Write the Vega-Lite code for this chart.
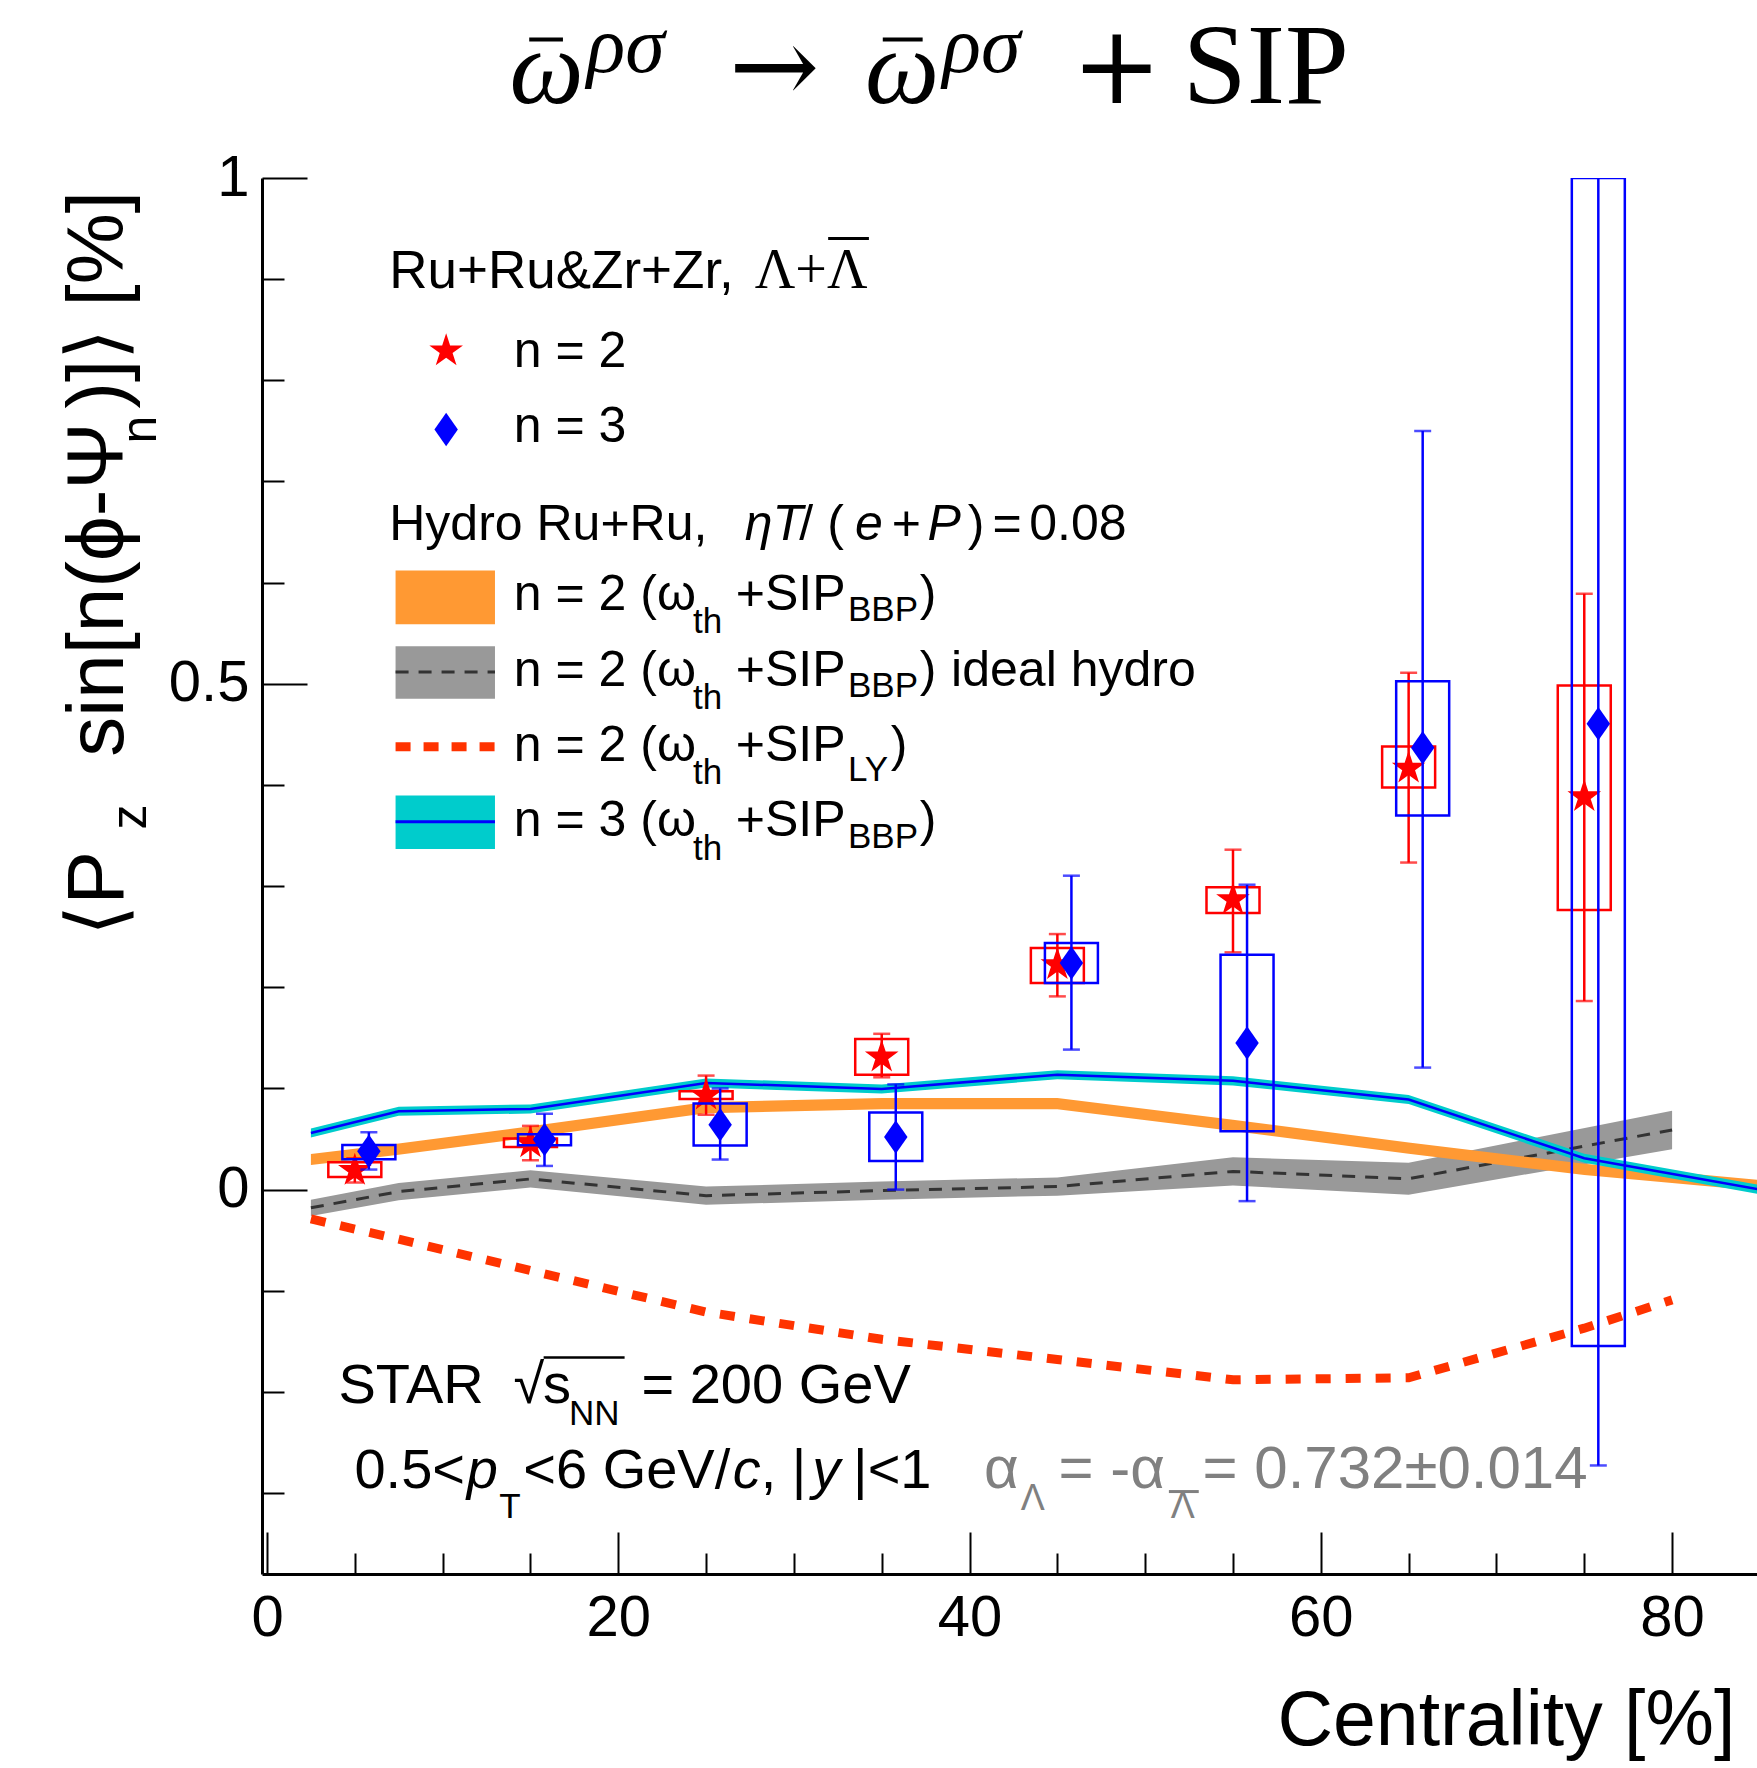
{
"$schema":"https://vega.github.io/schema/vega-lite/v6.json",
"usermeta":{"embedOptions":{"actions":false}},
"width":1495,"height":1396,
"autosize":{"type":"none"},
"padding":{"left":262,"top":178,"right":0,"bottom":194},
"background":"white",
"config":{"view":{"stroke":null},"axis":{"grid":false}},
"resolve":{"axis":{"x":"independent","y":"independent"}},
"datasets":{
"ideal":[{"c":2.5,"m":-0.018,"lo":-0.026,"hi":-0.01},{"c":7.5,"m":-0.002,"lo":-0.0105,"hi":0.0065},{"c":15,"m":0.0105,"lo":0.002,"hi":0.019},{"c":25,"m":-0.006,"lo":-0.015,"hi":0.003},{"c":35,"m":-0.001,"lo":-0.01,"hi":0.008},{"c":45,"m":0.003,"lo":-0.006,"hi":0.012},{"c":55,"m":0.018,"lo":0.004,"hi":0.032},{"c":65,"m":0.0107,"lo":-0.005,"hi":0.0265},{"c":80,"m":0.059,"lo":0.04,"hi":0.078}],
"bbp2":[{"c":2.5,"m":0.0297,"lo":0.0242,"hi":0.0352},{"c":7.5,"m":0.04,"lo":0.0345,"hi":0.0455},{"c":15,"m":0.057,"lo":0.0515,"hi":0.0625},{"c":25,"m":0.081,"lo":0.0755,"hi":0.0865},{"c":35,"m":0.085,"lo":0.0795,"hi":0.0905},{"c":45,"m":0.085,"lo":0.0795,"hi":0.0905},{"c":55,"m":0.0635,"lo":0.058,"hi":0.069},{"c":65,"m":0.041,"lo":0.0355,"hi":0.0465},{"c":75,"m":0.02,"lo":0.0145,"hi":0.0255},{"c":85,"m":0.004,"lo":-0.0015,"hi":0.0095}],
"bbp3":[{"c":2.5,"m":0.056,"lo":0.0515,"hi":0.0605},{"c":7.5,"m":0.0775,"lo":0.073,"hi":0.082},{"c":15,"m":0.0797,"lo":0.0752,"hi":0.0842},{"c":25,"m":0.1054,"lo":0.1009,"hi":0.1099},{"c":35,"m":0.0995,"lo":0.095,"hi":0.104},{"c":45,"m":0.1136,"lo":0.1091,"hi":0.1181},{"c":55,"m":0.1075,"lo":0.103,"hi":0.112},{"c":65,"m":0.089,"lo":0.0845,"hi":0.0935},{"c":75,"m":0.031,"lo":0.0265,"hi":0.0355},{"c":85,"m":0.0,"lo":-0.0045,"hi":0.0045}],
"ly":[{"c":2.5,"m":-0.029},{"c":7.5,"m":-0.049},{"c":15,"m":-0.08},{"c":25,"m":-0.121},{"c":35,"m":-0.148},{"c":45,"m":-0.168},{"c":55,"m":-0.188},{"c":65,"m":-0.186},{"c":75,"m":-0.137},{"c":80,"m":-0.109}],
"n2":[{"cent":5,"v":0.019,"slo":0.0125,"shi":0.027,"elo":0.007,"ehi":0.031},{"cent":15,"v":0.046,"slo":0.042,"shi":0.0505,"elo":0.029,"ehi":0.063},{"cent":25,"v":0.0934,"slo":0.0895,"shi":0.0972,"elo":0.074,"ehi":0.1127},{"cent":35,"v":0.131,"slo":0.1136,"shi":0.1489,"elo":0.111,"ehi":0.154},{"cent":45,"v":0.2223,"slo":0.2042,"shi":0.2389,"elo":0.191,"ehi":0.2526},{"cent":55,"v":0.2866,"slo":0.2734,"shi":0.299,"elo":0.2345,"ehi":0.336},{"cent":65,"v":0.4166,"slo":0.3974,"shi":0.4379,"elo":0.3233,"ehi":0.5109},{"cent":75,"v":0.3883,"slo":0.2765,"shi":0.4983,"elo":0.1864,"ehi":0.589}],
"n3":[{"cent":5.8,"v":0.038,"slo":0.03,"shi":0.044,"elo":0.0198,"ehi":0.0567},{"cent":15.8,"v":0.0494,"slo":0.0438,"shi":0.0546,"elo":0.0234,"ehi":0.075},{"cent":25.8,"v":0.0642,"slo":0.0435,"shi":0.085,"elo":0.0297,"ehi":0.1},{"cent":35.8,"v":0.052,"slo":0.0282,"shi":0.0763,"elo":0.0,"ehi":0.104},{"cent":45.8,"v":0.224,"slo":0.2042,"shi":0.2437,"elo":0.1384,"ehi":0.3103},{"cent":55.8,"v":0.1449,"slo":0.0577,"shi":0.2322,"elo":-0.0114,"ehi":0.3014},{"cent":65.8,"v":0.4368,"slo":0.3698,"shi":0.5024,"elo":0.1206,"ehi":0.7499},{"cent":75.8,"v":0.4605,"slo":-0.1546,"shi":1.0,"elo":-0.2727,"ehi":1.15}]
},
"layer":[
{"data":{"name":"ideal"},"mark":{"type":"area","color":"#999999","clip":true},
 "encoding":{
  "x":{"field":"c","type":"quantitative","scale":{"domain":[0,84.55],"nice":false,"zero":false},"axis":{"orient":"bottom","values":[0,20,40,60,80],"format":"d","ticks":false,"domain":true,"domainColor":"#000000","domainWidth":3,"labelFont":"Liberation Sans","labelFontSize":58,"labelColor":"#000000","labelBaseline":"alphabetic","labelPadding":61,"labelAlign":"center","labelFlush":false,"labelOverlap":false,"title":null,"grid":false}},
  "y":{"field":"lo","type":"quantitative","scale":{"domain":[-0.38,1],"nice":false,"zero":false},"axis":{"orient":"left","values":[0,0.5,1],"format":"~g","ticks":false,"domain":true,"domainColor":"#000000","domainWidth":3,"labelFont":"Liberation Sans","labelFontSize":58,"labelColor":"#000000","labelBaseline":"middle","labelAlign":"right","labelPadding":13,"labelFlush":false,"labelOverlap":false,"title":null,"grid":false}},
  "y2":{"field":"hi"}}},
{"data":{"name":"ideal"},"mark":{"type":"line","color":"#333333","strokeWidth":3,"strokeDash":[13,10],"clip":true},
 "encoding":{
  "x":{"field":"c","type":"quantitative","scale":{"domain":[0,84.55],"nice":false,"zero":false},"axis":{"orient":"bottom","values":[0,20,40,60,80],"ticks":true,"tickSize":-42,"tickWidth":2,"tickColor":"#000000","labels":false,"domain":false,"title":null,"grid":false}},
  "y":{"field":"m","type":"quantitative","scale":{"domain":[-0.38,1],"nice":false,"zero":false},"axis":{"orient":"left","values":[0,0.5,1],"ticks":true,"tickSize":-45,"tickWidth":2,"tickColor":"#000000","labels":false,"domain":false,"title":null,"grid":false}}}},
{"data":{"name":"bbp2"},"mark":{"type":"area","color":"#ff9933","clip":true},
 "encoding":{
  "x":{"field":"c","type":"quantitative","scale":{"domain":[0,84.55],"nice":false,"zero":false},"axis":{"orient":"bottom","values":[5,10,15,25,30,35,45,50,55,65,70,75],"ticks":true,"tickSize":-21,"tickWidth":2,"tickColor":"#000000","labels":false,"domain":false,"title":null,"grid":false}},
  "y":{"field":"lo","type":"quantitative","scale":{"domain":[-0.38,1],"nice":false,"zero":false},"axis":{"orient":"left","values":[-0.3,-0.2,-0.1,0.1,0.2,0.3,0.4,0.6,0.7,0.8,0.9],"ticks":true,"tickSize":-22,"tickWidth":2,"tickColor":"#000000","labels":false,"domain":false,"title":null,"grid":false}},
  "y2":{"field":"hi"}}},
{"data":{"name":"bbp3"},"mark":{"type":"area","color":"#00cccc","clip":true},
 "encoding":{
  "x":{"field":"c","type":"quantitative","scale":{"domain":[0,84.55],"nice":false,"zero":false},"axis":null},
  "y":{"field":"lo","type":"quantitative","scale":{"domain":[-0.38,1],"nice":false,"zero":false},"axis":null},
  "y2":{"field":"hi"}}},
{"data":{"name":"bbp3"},"mark":{"type":"line","color":"#0000ff","strokeWidth":2.5,"clip":true},
 "encoding":{
  "x":{"field":"c","type":"quantitative","scale":{"domain":[0,84.55],"nice":false,"zero":false},"axis":null},
  "y":{"field":"m","type":"quantitative","scale":{"domain":[-0.38,1],"nice":false,"zero":false},"axis":null}}},
{"data":{"name":"ly"},"mark":{"type":"line","color":"#ff3300","strokeWidth":9,"strokeDash":[15,15],"clip":true},
 "encoding":{
  "x":{"field":"c","type":"quantitative","scale":{"domain":[0,84.55],"nice":false,"zero":false},"axis":null},
  "y":{"field":"m","type":"quantitative","scale":{"domain":[-0.38,1],"nice":false,"zero":false},"axis":null}}},
{"mark":{"type":"rule","color":"#111111","strokeWidth":2.5,"strokeDash":[4,5]},
 "encoding":{"y":{"datum":0,"type":"quantitative","scale":{"domain":[-0.38,1],"nice":false,"zero":false},"axis":null}}},
{"mark":{"type":"rule","color":"#000000","strokeWidth":3},
 "encoding":{"y":{"datum":1,"type":"quantitative","scale":{"domain":[-0.38,1],"nice":false,"zero":false},"axis":null}}},
{"data":{"name":"n2"},"mark":{"type":"bar","width":53,"fillOpacity":0,"stroke":"#ff0000","strokeWidth":2.5,"clip":true},
 "encoding":{
  "x":{"field":"cent","type":"quantitative","scale":{"domain":[0,84.55],"nice":false,"zero":false},"axis":null},
  "y":{"field":"slo","type":"quantitative","scale":{"domain":[-0.38,1],"nice":false,"zero":false},"axis":null},
  "y2":{"field":"shi"}}},
{"data":{"name":"n2"},"mark":{"type":"rule","color":"#ff0000","strokeWidth":2.5,"clip":true},
 "encoding":{
  "x":{"field":"cent","type":"quantitative","scale":{"domain":[0,84.55],"nice":false,"zero":false},"axis":null},
  "y":{"field":"elo","type":"quantitative","scale":{"domain":[-0.38,1],"nice":false,"zero":false},"axis":null},
  "y2":{"field":"ehi"}}},
{"data":{"name":"n2"},"mark":{"type":"tick","orient":"horizontal","color":"#ff0000","size":17,"thickness":2.5,"clip":true},
 "encoding":{
  "x":{"field":"cent","type":"quantitative","scale":{"domain":[0,84.55],"nice":false,"zero":false},"axis":null},
  "y":{"field":"elo","type":"quantitative","scale":{"domain":[-0.38,1],"nice":false,"zero":false},"axis":null}}},
{"data":{"name":"n2"},"mark":{"type":"tick","orient":"horizontal","color":"#ff0000","size":17,"thickness":2.5,"clip":true},
 "encoding":{
  "x":{"field":"cent","type":"quantitative","scale":{"domain":[0,84.55],"nice":false,"zero":false},"axis":null},
  "y":{"field":"ehi","type":"quantitative","scale":{"domain":[-0.38,1],"nice":false,"zero":false},"axis":null}}},
{"data":{"name":"n2"},"mark":{"type":"point","shape":"M0,-1L0.225,-0.309L0.951,-0.309L0.363,0.118L0.588,0.809L0,0.382L-0.588,0.809L-0.363,0.118L-0.951,-0.309L-0.225,-0.309Z","filled":true,"color":"#ff0000","opacity":1,"size":1250,"strokeWidth":0},
 "encoding":{
  "x":{"field":"cent","type":"quantitative","scale":{"domain":[0,84.55],"nice":false,"zero":false},"axis":null},
  "y":{"field":"v","type":"quantitative","scale":{"domain":[-0.38,1],"nice":false,"zero":false},"axis":null}}},
{"data":{"name":"n3"},"mark":{"type":"bar","width":53,"fillOpacity":0,"stroke":"#0000ff","strokeWidth":2.5,"clip":true},
 "encoding":{
  "x":{"field":"cent","type":"quantitative","scale":{"domain":[0,84.55],"nice":false,"zero":false},"axis":null},
  "y":{"field":"slo","type":"quantitative","scale":{"domain":[-0.38,1],"nice":false,"zero":false},"axis":null},
  "y2":{"field":"shi"}}},
{"data":{"name":"n3"},"mark":{"type":"rule","color":"#0000ff","strokeWidth":2.5,"clip":true},
 "encoding":{
  "x":{"field":"cent","type":"quantitative","scale":{"domain":[0,84.55],"nice":false,"zero":false},"axis":null},
  "y":{"field":"elo","type":"quantitative","scale":{"domain":[-0.38,1],"nice":false,"zero":false},"axis":null},
  "y2":{"field":"ehi"}}},
{"data":{"name":"n3"},"mark":{"type":"tick","orient":"horizontal","color":"#0000ff","size":17,"thickness":2.5,"clip":true},
 "encoding":{
  "x":{"field":"cent","type":"quantitative","scale":{"domain":[0,84.55],"nice":false,"zero":false},"axis":null},
  "y":{"field":"elo","type":"quantitative","scale":{"domain":[-0.38,1],"nice":false,"zero":false},"axis":null}}},
{"data":{"name":"n3"},"mark":{"type":"tick","orient":"horizontal","color":"#0000ff","size":17,"thickness":2.5,"clip":true},
 "encoding":{
  "x":{"field":"cent","type":"quantitative","scale":{"domain":[0,84.55],"nice":false,"zero":false},"axis":null},
  "y":{"field":"ehi","type":"quantitative","scale":{"domain":[-0.38,1],"nice":false,"zero":false},"axis":null}}},
{"data":{"name":"n3"},"mark":{"type":"point","shape":"M0,-1L0.7,0L0,1L-0.7,0Z","filled":true,"color":"#0000ff","opacity":1,"size":1122,"strokeWidth":0},
 "encoding":{
  "x":{"field":"cent","type":"quantitative","scale":{"domain":[0,84.55],"nice":false,"zero":false},"axis":null},
  "y":{"field":"v","type":"quantitative","scale":{"domain":[-0.38,1],"nice":false,"zero":false},"axis":null}}},
{"data":{"values":[{"x1":7.32,"x2":12.98,"y1":0.5589,"y2":0.6119,"k":"bbp2"},{"x1":7.32,"x2":12.98,"y1":0.4851,"y2":0.5371,"k":"ideal"},{"x1":7.32,"x2":12.98,"y1":0.3366,"y2":0.3895,"k":"bbp3"}]},
 "mark":{"type":"rect"},
 "encoding":{
  "x":{"field":"x1","type":"quantitative","scale":{"domain":[0,84.55],"nice":false,"zero":false},"axis":null},"x2":{"field":"x2"},
  "y":{"field":"y1","type":"quantitative","scale":{"domain":[-0.38,1],"nice":false,"zero":false},"axis":null},"y2":{"field":"y2"},
  "color":{"field":"k","type":"nominal","scale":{"domain":["bbp2","ideal","bbp3"],"range":["#ff9933","#999999","#00cccc"]},"legend":null}}},
{"data":{"values":[{"x1":7.32,"x2":12.98,"y":0.5116}]},"mark":{"type":"rule","color":"#333333","strokeWidth":3,"strokeDash":[13,10]},
 "encoding":{"x":{"field":"x1","type":"quantitative","scale":{"domain":[0,84.55],"nice":false,"zero":false},"axis":null},"x2":{"field":"x2"},"y":{"field":"y","type":"quantitative","scale":{"domain":[-0.38,1],"nice":false,"zero":false},"axis":null}}},
{"data":{"values":[{"x1":7.32,"x2":12.98,"y":0.4378}]},"mark":{"type":"rule","color":"#ff3300","strokeWidth":9,"strokeDash":[15,13]},
 "encoding":{"x":{"field":"x1","type":"quantitative","scale":{"domain":[0,84.55],"nice":false,"zero":false},"axis":null},"x2":{"field":"x2"},"y":{"field":"y","type":"quantitative","scale":{"domain":[-0.38,1],"nice":false,"zero":false},"axis":null}}},
{"data":{"values":[{"x1":7.32,"x2":12.98,"y":0.3636}]},"mark":{"type":"rule","color":"#0000ff","strokeWidth":3},
 "encoding":{"x":{"field":"x1","type":"quantitative","scale":{"domain":[0,84.55],"nice":false,"zero":false},"axis":null},"x2":{"field":"x2"},"y":{"field":"y","type":"quantitative","scale":{"domain":[-0.38,1],"nice":false,"zero":false},"axis":null}}},
{"data":{"values":[{"x":10.2,"y":0.829}]},"mark":{"type":"point","shape":"M0,-1L0.225,-0.309L0.951,-0.309L0.363,0.118L0.588,0.809L0,0.382L-0.588,0.809L-0.363,0.118L-0.951,-0.309L-0.225,-0.309Z","filled":true,"color":"#ff0000","opacity":1,"size":1250,"strokeWidth":0},
 "encoding":{"x":{"field":"x","type":"quantitative","scale":{"domain":[0,84.55],"nice":false,"zero":false},"axis":null},"y":{"field":"y","type":"quantitative","scale":{"domain":[-0.38,1],"nice":false,"zero":false},"axis":null}}},
{"data":{"values":[{"x":10.2,"y":0.7514}]},"mark":{"type":"point","shape":"M0,-1L0.7,0L0,1L-0.7,0Z","filled":true,"color":"#0000ff","opacity":1,"size":1122,"strokeWidth":0},
 "encoding":{"x":{"field":"x","type":"quantitative","scale":{"domain":[0,84.55],"nice":false,"zero":false},"axis":null},"y":{"field":"y","type":"quantitative","scale":{"domain":[-0.38,1],"nice":false,"zero":false},"axis":null}}},
{"data":{"values":[{"x":6.96,"y":0.8909,"t":"Ru+Ru&Zr+Zr,"}]},
 "mark":{"type":"text","align":"left","baseline":"alphabetic","font":"Liberation Sans","fontSize":53,"color":"#000000"},
 "encoding":{"x":{"field":"x","type":"quantitative","scale":{"domain":[0,84.55],"nice":false,"zero":false},"axis":null},"y":{"field":"y","type":"quantitative","scale":{"domain":[-0.38,1],"nice":false,"zero":false},"axis":null},"text":{"field":"t"}}},
{"data":{"values":[{"x":27.77,"y":0.8909,"t":"Λ+Λ"}]},
 "mark":{"type":"text","align":"left","baseline":"alphabetic","font":"Liberation Serif","fontSize":56,"color":"#000000"},
 "encoding":{"x":{"field":"x","type":"quantitative","scale":{"domain":[0,84.55],"nice":false,"zero":false},"axis":null},"y":{"field":"y","type":"quantitative","scale":{"domain":[-0.38,1],"nice":false,"zero":false},"axis":null},"text":{"field":"t"}}},
{"data":{"values":[{"x1":31.95,"x2":34.27,"y":0.9401}]},"mark":{"type":"rule","color":"#000000","strokeWidth":3},
 "encoding":{"x":{"field":"x1","type":"quantitative","scale":{"domain":[0,84.55],"nice":false,"zero":false},"axis":null},"x2":{"field":"x2"},"y":{"field":"y","type":"quantitative","scale":{"domain":[-0.38,1],"nice":false,"zero":false},"axis":null}}},
{"data":{"values":[{"x":14.05,"y":0.8129,"t":"n = 2"},{"x":14.05,"y":0.7386,"t":"n = 3"},{"x":6.96,"y":0.6425,"t":"Hydro Ru+Ru,"},{"x":30.31,"y":0.6425,"t":"/ ("},{"x":35.57,"y":0.6425,"t":"+"},{"x":39.9,"y":0.6425,"t":")"},{"x":41.3,"y":0.6425,"t":"="},{"x":43.4,"y":0.6425,"t":"0.08"},{"x":14.05,"y":0.5734,"t":"n = 2 (ω"},{"x":26.69,"y":0.5734,"t":"+SIP"},{"x":37.16,"y":0.5734,"t":")"},{"x":14.05,"y":0.4983,"t":"n = 2 (ω"},{"x":26.69,"y":0.4983,"t":"+SIP"},{"x":37.16,"y":0.4983,"t":")"},{"x":38.95,"y":0.4983,"t":"ideal hydro"},{"x":14.05,"y":0.4236,"t":"n = 2 (ω"},{"x":26.69,"y":0.4236,"t":"+SIP"},{"x":35.52,"y":0.4236,"t":")"},{"x":14.05,"y":0.3493,"t":"n = 3 (ω"},{"x":26.69,"y":0.3493,"t":"+SIP"},{"x":37.16,"y":0.3493,"t":")"}]},
 "mark":{"type":"text","align":"left","baseline":"alphabetic","font":"Liberation Sans","fontSize":50,"color":"#000000"},
 "encoding":{"x":{"field":"x","type":"quantitative","scale":{"domain":[0,84.55],"nice":false,"zero":false},"axis":null},"y":{"field":"y","type":"quantitative","scale":{"domain":[-0.38,1],"nice":false,"zero":false},"axis":null},"text":{"field":"t"}}},
{"data":{"values":[{"x":27.2,"y":0.6425,"t":"ηT"},{"x":33.48,"y":0.6425,"t":"e"},{"x":37.61,"y":0.6425,"t":"P"}]},
 "mark":{"type":"text","align":"left","baseline":"alphabetic","font":"Liberation Sans","fontSize":50,"fontStyle":"italic","color":"#000000"},
 "encoding":{"x":{"field":"x","type":"quantitative","scale":{"domain":[0,84.55],"nice":false,"zero":false},"axis":null},"y":{"field":"y","type":"quantitative","scale":{"domain":[-0.38,1],"nice":false,"zero":false},"axis":null},"text":{"field":"t"}}},
{"data":{"values":[{"x":24.26,"y":0.5503,"t":"th"},{"x":24.26,"y":0.4747,"t":"th"},{"x":24.26,"y":0.4013,"t":"th"},{"x":24.26,"y":0.3257,"t":"th"},{"x":33.08,"y":0.5622,"t":"BBP"},{"x":33.08,"y":0.4866,"t":"BBP"},{"x":33.08,"y":0.4037,"t":"LY"},{"x":33.08,"y":0.3376,"t":"BBP"}]},
 "mark":{"type":"text","align":"left","baseline":"alphabetic","font":"Liberation Sans","fontSize":35,"color":"#000000"},
 "encoding":{"x":{"field":"x","type":"quantitative","scale":{"domain":[0,84.55],"nice":false,"zero":false},"axis":null},"y":{"field":"y","type":"quantitative","scale":{"domain":[-0.38,1],"nice":false,"zero":false},"axis":null},"text":{"field":"t"}}},
{"data":{"values":[{"x":4.07,"y":-0.2106,"t":"STAR"},{"x":14.03,"y":-0.2106,"t":"√"},{"x":15.72,"y":-0.2106,"t":"s"},{"x":21.32,"y":-0.2106,"t":"= 200 GeV"},{"x":4.98,"y":-0.2946,"t":"0.5<"},{"x":14.59,"y":-0.2946,"t":"<6 GeV/"},{"x":28.11,"y":-0.2946,"t":", |"},{"x":33.37,"y":-0.2946,"t":"|<1"}]},
 "mark":{"type":"text","align":"left","baseline":"alphabetic","font":"Liberation Sans","fontSize":56,"color":"#000000"},
 "encoding":{"x":{"field":"x","type":"quantitative","scale":{"domain":[0,84.55],"nice":false,"zero":false},"axis":null},"y":{"field":"y","type":"quantitative","scale":{"domain":[-0.38,1],"nice":false,"zero":false},"axis":null},"text":{"field":"t"}}},
{"data":{"values":[{"x":11.37,"y":-0.2946,"t":"p"},{"x":26.52,"y":-0.2946,"t":"c"},{"x":31.05,"y":-0.2946,"t":"y"}]},
 "mark":{"type":"text","align":"left","baseline":"alphabetic","font":"Liberation Sans","fontSize":56,"fontStyle":"italic","color":"#000000"},
 "encoding":{"x":{"field":"x","type":"quantitative","scale":{"domain":[0,84.55],"nice":false,"zero":false},"axis":null},"y":{"field":"y","type":"quantitative","scale":{"domain":[-0.38,1],"nice":false,"zero":false},"axis":null},"text":{"field":"t"}}},
{"data":{"values":[{"x":17.19,"y":-0.2324,"t":"NN"},{"x":13.23,"y":-0.3242,"t":"T"}]},
 "mark":{"type":"text","align":"left","baseline":"alphabetic","font":"Liberation Sans","fontSize":35,"color":"#000000"},
 "encoding":{"x":{"field":"x","type":"quantitative","scale":{"domain":[0,84.55],"nice":false,"zero":false},"axis":null},"y":{"field":"y","type":"quantitative","scale":{"domain":[-0.38,1],"nice":false,"zero":false},"axis":null},"text":{"field":"t"}}},
{"data":{"values":[{"x1":15.75,"x2":20.36,"y":-0.1661}]},"mark":{"type":"rule","color":"#000000","strokeWidth":2.5},
 "encoding":{"x":{"field":"x1","type":"quantitative","scale":{"domain":[0,84.55],"nice":false,"zero":false},"axis":null},"x2":{"field":"x2"},"y":{"field":"y","type":"quantitative","scale":{"domain":[-0.38,1],"nice":false,"zero":false},"axis":null}}},
{"data":{"values":[{"x":40.83,"y":-0.2946,"t":"α"},{"x":45.07,"y":-0.2946,"t":"= -α"},{"x":53.27,"y":-0.2946,"t":"= 0.732±0.014"}]},
 "mark":{"type":"text","align":"left","baseline":"alphabetic","font":"Liberation Sans","fontSize":60,"color":"#808080"},
 "encoding":{"x":{"field":"x","type":"quantitative","scale":{"domain":[0,84.55],"nice":false,"zero":false},"axis":null},"y":{"field":"y","type":"quantitative","scale":{"domain":[-0.38,1],"nice":false,"zero":false},"axis":null},"text":{"field":"t"}}},
{"data":{"values":[{"x":42.92,"y":-0.3163,"t":"Λ"},{"x":51.46,"y":-0.3242,"t":"Λ"}]},
 "mark":{"type":"text","align":"left","baseline":"alphabetic","font":"Liberation Sans","fontSize":36,"color":"#808080"},
 "encoding":{"x":{"field":"x","type":"quantitative","scale":{"domain":[0,84.55],"nice":false,"zero":false},"axis":null},"y":{"field":"y","type":"quantitative","scale":{"domain":[-0.38,1],"nice":false,"zero":false},"axis":null},"text":{"field":"t"}}},
{"data":{"values":[{"x1":51.35,"x2":53.05,"y":-0.2985}]},"mark":{"type":"rule","color":"#808080","strokeWidth":3},
 "encoding":{"x":{"field":"x1","type":"quantitative","scale":{"domain":[0,84.55],"nice":false,"zero":false},"axis":null},"x2":{"field":"x2"},"y":{"field":"y","type":"quantitative","scale":{"domain":[-0.38,1],"nice":false,"zero":false},"axis":null}}},
{"data":{"values":[{"x":13.8,"y":1.0745,"t":"ω"},{"x":34.05,"y":1.0745,"t":"ω"}]},
 "mark":{"type":"text","align":"left","baseline":"alphabetic","font":"Liberation Serif","fontSize":105,"fontStyle":"italic","color":"#000000"},
 "encoding":{"x":{"field":"x","type":"quantitative","scale":{"domain":[0,84.55],"nice":false,"zero":false},"axis":null},"y":{"field":"y","type":"quantitative","scale":{"domain":[-0.38,1],"nice":false,"zero":false},"axis":null},"text":{"field":"t"}}},
{"data":{"values":[{"x":18.21,"y":1.1052,"t":"ρσ"},{"x":38.46,"y":1.1052,"t":"ρσ"}]},
 "mark":{"type":"text","align":"left","baseline":"alphabetic","font":"Liberation Serif","fontSize":80,"fontStyle":"italic","color":"#000000"},
 "encoding":{"x":{"field":"x","type":"quantitative","scale":{"domain":[0,84.55],"nice":false,"zero":false},"axis":null},"y":{"field":"y","type":"quantitative","scale":{"domain":[-0.38,1],"nice":false,"zero":false},"axis":null},"text":{"field":"t"}}},
{"data":{"values":[{"x":26.3,"y":1.0745,"t":"→"},{"x":45.8,"y":1.0745,"t":"+"}]},
 "mark":{"type":"text","align":"left","baseline":"alphabetic","font":"DejaVu Serif","fontSize":108,"color":"#000000"},
 "encoding":{"x":{"field":"x","type":"quantitative","scale":{"domain":[0,84.55],"nice":false,"zero":false},"axis":null},"y":{"field":"y","type":"quantitative","scale":{"domain":[-0.38,1],"nice":false,"zero":false},"axis":null},"text":{"field":"t"}}},
{"data":{"values":[{"x":52.14,"y":1.0745,"t":"SIP"}]},
 "mark":{"type":"text","align":"left","baseline":"alphabetic","font":"Liberation Serif","fontSize":115,"color":"#000000"},
 "encoding":{"x":{"field":"x","type":"quantitative","scale":{"domain":[0,84.55],"nice":false,"zero":false},"axis":null},"y":{"field":"y","type":"quantitative","scale":{"domain":[-0.38,1],"nice":false,"zero":false},"axis":null},"text":{"field":"t"}}},
{"data":{"values":[{"x1":14.93,"x2":16.85,"y":1.1368},{"x1":35.06,"x2":37.33,"y":1.1368}]},"mark":{"type":"rule","color":"#000000","strokeWidth":4},
 "encoding":{"x":{"field":"x1","type":"quantitative","scale":{"domain":[0,84.55],"nice":false,"zero":false},"axis":null},"x2":{"field":"x2"},"y":{"field":"y","type":"quantitative","scale":{"domain":[-0.38,1],"nice":false,"zero":false},"axis":null}}},
{"data":{"values":[{"x":-8.22,"y":0.2511,"t":"⟨P"},{"x":-8.22,"y":0.428,"t":"sin[n(ϕ-Ψ"},{"x":-8.22,"y":0.772,"t":")]⟩ [%]"}]},
 "mark":{"type":"text","align":"left","baseline":"alphabetic","angle":270,"font":"Liberation Sans","fontSize":80,"color":"#000000"},
 "encoding":{"x":{"field":"x","type":"quantitative","scale":{"domain":[0,84.55],"nice":false,"zero":false},"axis":null},"y":{"field":"y","type":"quantitative","scale":{"domain":[-0.38,1],"nice":false,"zero":false},"axis":null},"text":{"field":"t"}}},
{"data":{"values":[{"x":-6.9,"y":0.3559,"t":"z"},{"x":-6.33,"y":0.7375,"t":"n"}]},
 "mark":{"type":"text","align":"left","baseline":"alphabetic","angle":270,"font":"Liberation Sans","fontSize":50,"color":"#000000"},
 "encoding":{"x":{"field":"x","type":"quantitative","scale":{"domain":[0,84.55],"nice":false,"zero":false},"axis":null},"y":{"field":"y","type":"quantitative","scale":{"domain":[-0.38,1],"nice":false,"zero":false},"axis":null},"text":{"field":"t"}}},
{"data":{"values":[{"x":83.6,"y":-0.5486,"t":"Centrality [%]"}]},
 "mark":{"type":"text","align":"right","baseline":"alphabetic","font":"Liberation Sans","fontSize":77,"color":"#000000"},
 "encoding":{"x":{"field":"x","type":"quantitative","scale":{"domain":[0,84.55],"nice":false,"zero":false},"axis":null},"y":{"field":"y","type":"quantitative","scale":{"domain":[-0.38,1],"nice":false,"zero":false},"axis":null},"text":{"field":"t"}}}
]
}
